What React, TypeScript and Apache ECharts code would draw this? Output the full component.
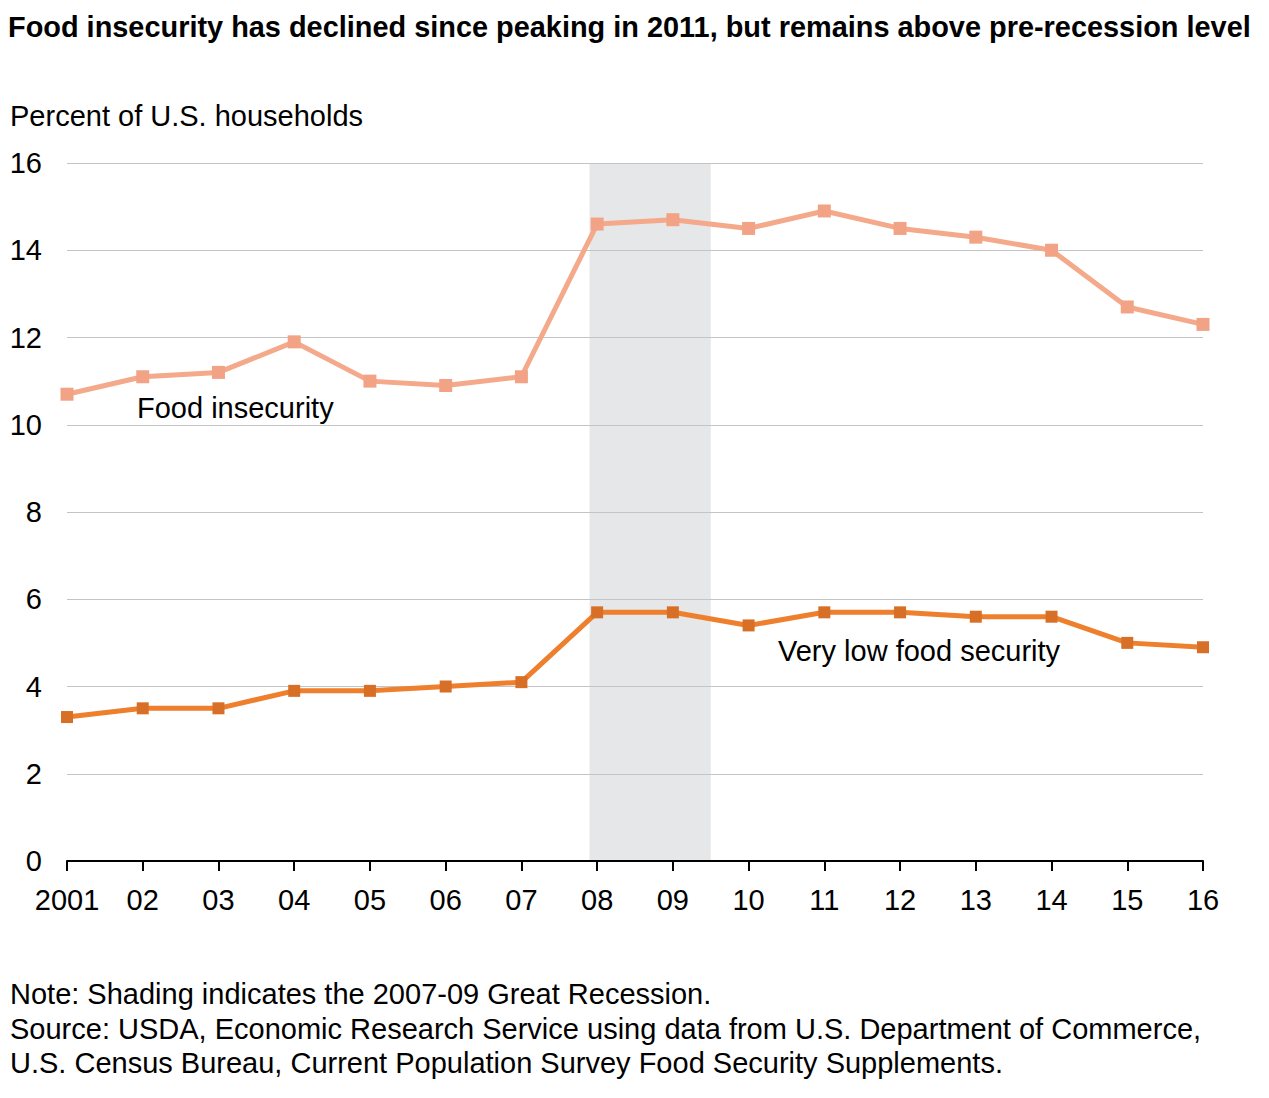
import React, { useEffect, useRef } from "react";
import * as echarts from "echarts";

const years = [2001, 2002, 2003, 2004, 2005, 2006, 2007, 2008, 2009, 2010, 2011, 2012, 2013, 2014, 2015, 2016];
const yearLabels = ["2001", "02", "03", "04", "05", "06", "07", "08", "09", "10", "11", "12", "13", "14", "15", "16"];
const foodInsecurity = [10.7, 11.1, 11.2, 11.9, 11.0, 10.9, 11.1, 14.6, 14.7, 14.5, 14.9, 14.5, 14.3, 14.0, 12.7, 12.3];
const veryLowFoodSecurity = [3.3, 3.5, 3.5, 3.9, 3.9, 4.0, 4.1, 5.7, 5.7, 5.4, 5.7, 5.7, 5.6, 5.6, 5.0, 4.9];
const recession = [2007.9, 2009.5];

const FONT = "'Liberation Sans', Arial, Helvetica, sans-serif";

export default function App() {
  const ref = useRef<HTMLDivElement>(null);
  useEffect(() => {
    const chart = echarts.init(ref.current!, null, { renderer: "svg" });
    const pairs = (vals: number[]) => years.map((y, i) => [y, vals[i]]);
    chart.setOption({
      animation: false,
      backgroundColor: "#ffffff",
      textStyle: { fontFamily: FONT },
      title: {
        text: "Food insecurity has declined since peaking in 2011, but remains above pre-recession level",
        left: 3,
        top: 7,
        textStyle: { fontFamily: FONT, fontSize: 28.9, fontWeight: "bold", color: "#000" },
      },
      grid: { left: 67, right: 66, top: 163, bottom: 237, containLabel: false },
      xAxis: {
        type: "value",
        min: 2001,
        max: 2016,
        interval: 1,
        z: 3,
        axisLine: { show: true, lineStyle: { color: "#000", width: 2 } },
        axisTick: { show: true, length: 10, lineStyle: { color: "#000", width: 2 } },
        splitLine: { show: false },
        axisLabel: {
          fontSize: 29,
          color: "#000",
          margin: 24,
          fontFamily: FONT,
          formatter: (v: number) => {
            const i = years.indexOf(Math.round(v));
            return i >= 0 ? yearLabels[i] : "";
          },
        },
      },
      yAxis: {
        type: "value",
        min: 0,
        max: 16,
        interval: 2,
        z: 3,
        axisLine: { show: false },
        axisTick: { show: false },
        splitLine: { show: true, lineStyle: { color: "#c4c4c4", width: 1 } },
        axisLabel: { fontSize: 29, color: "#000", margin: 25, fontFamily: FONT },
      },
      graphic: [
        { type: "text", left: 10, top: 101, style: { text: "Percent of U.S. households", fontSize: 29, fontFamily: FONT, fill: "#000" } },
        { type: "text", left: 137, top: 393, style: { text: "Food insecurity", fontSize: 29, fontFamily: FONT, fill: "#000" } },
        { type: "text", left: 778, top: 636, style: { text: "Very low food security", fontSize: 29, fontFamily: FONT, fill: "#000" } },
        {
          type: "text",
          left: 10,
          top: 977,
          style: {
            text:
              "Note: Shading indicates the 2007-09 Great Recession.\nSource: USDA, Economic Research Service using data from U.S. Department of Commerce,\nU.S. Census Bureau, Current Population Survey Food Security Supplements.",
            fontSize: 29,
            lineHeight: 34.5,
            fontFamily: FONT,
            fill: "#000",
          },
        },
      ],
      series: [
        {
          type: "line",
          name: "shade",
          z: 1,
          data: [],
          markArea: {
            silent: true,
            itemStyle: { color: "#e6e7e8" },
            data: [[{ xAxis: recession[0] }, { xAxis: recession[1] }]],
          },
        },
        {
          type: "line",
          name: "Food insecurity",
          z: 5,
          data: pairs(foodInsecurity),
          symbol: "rect",
          symbolSize: 13,
          lineStyle: { color: "#f4a98a", width: 5 },
          itemStyle: { color: "#f2a385" },
        },
        {
          type: "line",
          name: "Very low food security",
          z: 5,
          data: pairs(veryLowFoodSecurity),
          symbol: "rect",
          symbolSize: 12,
          lineStyle: { color: "#ee7f2d", width: 5 },
          itemStyle: { color: "#d86f27" },
        },
      ],
    });
    return () => chart.dispose();
  }, []);
  return <div ref={ref} style={{ position: "fixed", left: 0, top: 0, width: 1269, height: 1098 }} />;
}
